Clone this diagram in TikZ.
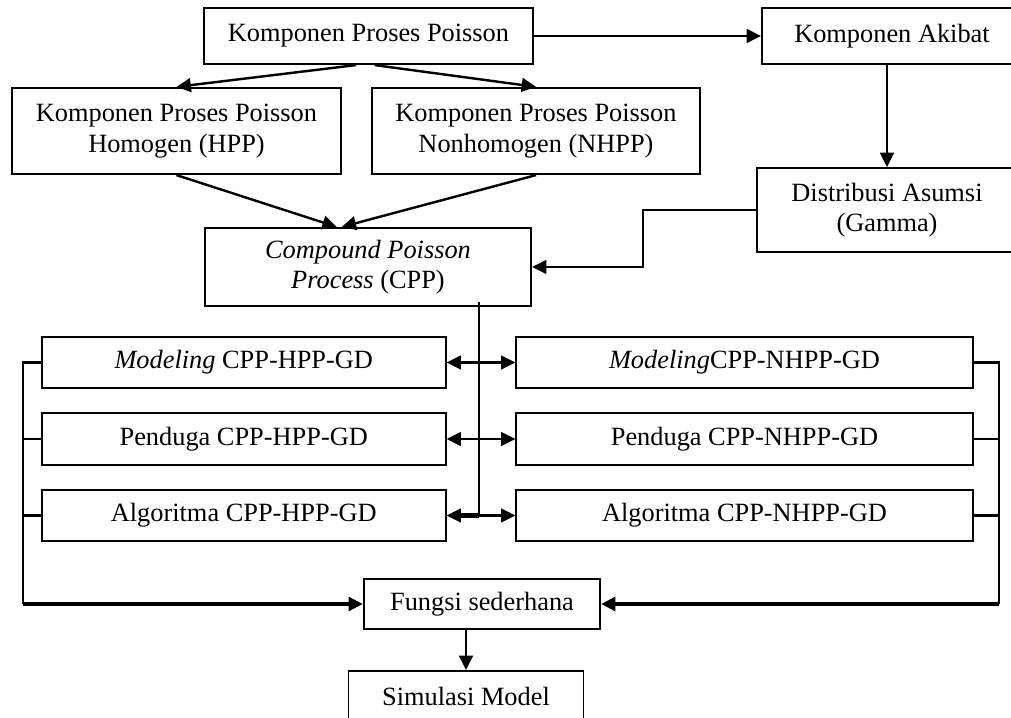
\documentclass[tikz,border=0pt]{standalone}
\usepackage{fontspec}
\setmainfont{Liberation Serif}
\usetikzlibrary{arrows.meta, positioning, calc}
\tikzset{
  every picture/.style={font=\fontsize{12}{13.8}\selectfont, line width=1.1pt},
  box/.style={draw, line width=0.9pt, align=center, inner sep=2pt, minimum height=0.82cm},
  arrow/.style={-{Triangle[length=2.3mm, width=2.2mm]}},
  both/.style={{Triangle[length=2.3mm, width=2.2mm]}-{Triangle[length=2.3mm, width=2.2mm]}},
  heavy/.style={line width=1.9pt},
}

\begin{document}
\begin{tikzpicture}[
  t/.style={box, minimum width=5.26cm, minimum height=0.9cm},
  k/.style={box, minimum width=5.26cm, minimum height=1.38cm},
  r/.style={box, minimum width=4.16cm},
  l/.style={box, minimum width=6.46cm},
  g/.style={box, minimum width=7.3cm},
  f/.style={box, minimum width=3.78cm, minimum height=0.8cm}]
  \useasboundingbox (0,0) rectangle (16.176,11.488);
  % ---- top part ----
  \node[t] (kpp) at (5.896,10.912) {Komponen Proses Poisson};
  \node[r, minimum height=0.9cm] (akibat) at (14.272,10.912) {Komponen Akibat};
  \node[k] (hpp) at (2.824,9.392) {Komponen Proses Poisson\\Homogen (HPP)};
  \node[k, minimum width=5.25cm] (nhpp) at (8.576,9.392) {Komponen Proses Poisson\\Nonhomogen (NHPP)};
  \node[r, minimum height=1.34cm] (dist) at (14.192,8.128) {Distribusi Asumsi\\(Gamma)};
  \node[box, minimum width=5.22cm, minimum height=1.25cm] (cpp) at (5.888,7.216)
    {\textit{Compound Poisson}\\\textit{Process} (CPP)};
  \draw[arrow] (kpp) -- (akibat);
  \draw[arrow] ([xshift=-0.2cm]kpp.south) -- (hpp.north);
  \draw[arrow] ([xshift=0.1cm]kpp.south) -- (nhpp.north);
  \draw[arrow] (hpp.south) -- ([xshift=-0.5cm]cpp.north);
  \draw[arrow] (nhpp.south) -- ([xshift=-0.42cm]cpp.north);
  \draw[arrow] (akibat.south -| dist) -- (dist.north);
  \coordinate (knee) at (10.288,8.128);
  \draw[arrow] (dist.west) -- (knee) |- (cpp.east);
  % ---- models ----
  \foreach \n/\y/\a/\b in {m/5.688/\textit{Modeling} CPP-HPP-GD/\textit{Modeling}CPP-NHPP-GD,
                           p/4.464/Penduga CPP-HPP-GD/Penduga CPP-NHPP-GD,
                           a/3.240/Algoritma CPP-HPP-GD/Algoritma CPP-NHPP-GD} {
    \node[l] (\n1) at (3.9,\y) {\a};
    \node[g] (\n2) at (11.912,\y) {\b};
  }
  \coordinate (bus) at (7.664,3.240);
  \draw ([yshift=0.08cm]cpp.south -| bus) -- (bus);
  \draw[both] (m1.east) -- (m2.west);
  \draw[both] (p1.east) -- (p2.west);
  \draw[both] (a1.east) -- (a2.west);
  \draw[heavy] ([xshift=2mm]a1.east) -- (bus);
  % ---- bottom ----
  \node[f] (fungsi) at (7.712,1.824) {Fungsi sederhana};
  \node[f, minimum width=3.76cm] (sim) at (7.456,0.352) {Simulasi Model};
  \coordinate (lb) at (0.368,1.824);
  \coordinate (rb) at (15.984,1.824);
  \draw (m1.west) -| (lb);
  \draw (p1.west) -- (p1.west -| lb);
  \draw (a1.west) -- (a1.west -| lb);
  \draw (m2.east) -| (rb);
  \draw (p2.east) -- (p2.east -| rb);
  \draw (a2.east) -- (a2.east -| rb);
  \draw[arrow, heavy] (lb) -- (fungsi.west);
  \draw[arrow, heavy] (rb) -- (fungsi.east);
  \draw[arrow] (fungsi.south -| sim) -- (sim.north);
\end{tikzpicture}
\end{document}
